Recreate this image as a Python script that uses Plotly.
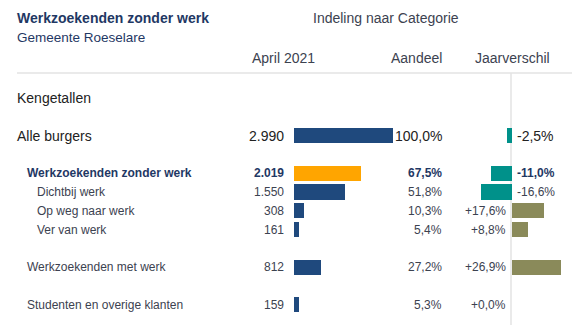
import plotly.graph_objects as go

# ---- data ----
labels = ["Alle burgers", "Werkzoekenden zonder werk", "Dichtbij werk",
          "Op weg naar werk", "Ver van werk", "Werkzoekenden met werk",
          "Studenten en overige klanten"]
values = [2990, 2019, 1550, 308, 161, 812, 159]
aandeel = [100.0, 67.5, 51.8, 10.3, 5.4, 27.2, 5.3]
jaarverschil = [-2.5, -11.0, -16.6, 17.6, 8.8, 26.9, 0.0]
value_labels = ["2.990", "2.019", "1.550", "308", "161", "812", "159"]
aandeel_labels = ["100,0%", "67,5%", "51,8%", "10,3%", "5,4%", "27,2%", "5,3%"]
jaar_labels = ["-2,5%", "-11,0%", "-16,6%", "+17,6%", "+8,8%", "+26,9%", "+0,0%"]
headers = ["April 2021", "Aandeel", "Jaarverschil"]

# ---- layout helpers (row slots, styling) ----
slots = [2, 4, 5, 6, 7, 9, 11]
indent = [17, 27, 37, 37, 37, 27, 27]
sizes = [14, 12, 12, 12, 12, 12, 12]
bold = [False, True, False, False, False, False, False]
W, H = 572, 325
SLOT = 18.8
Y0 = 98

NAVY = "#1f497d"
ORANGE = "#ffa500"
TEAL = "#00918a"
OLIVE = "#8a8a5a"
TXT = "#3c4250"
FONT = "Liberation Sans, Arial, sans-serif"

bar_colors = [ORANGE if i == 1 else NAVY for i in range(len(values))]
jv_colors = [TEAL if v < 0 else OLIVE for v in jaarverschil]

fig = go.Figure()
fig.add_trace(go.Bar(x=values, y=slots, orientation="h", marker_color=bar_colors,
                     marker_line_width=0, width=0.8, xaxis="x", yaxis="y",
                     hoverinfo="skip"))
fig.add_trace(go.Bar(x=jaarverschil, y=slots, orientation="h", marker_color=jv_colors,
                     marker_line_width=0, width=0.8, xaxis="x2", yaxis="y",
                     hoverinfo="skip"))

def px(x):
    return x / W

ann = []
def add(text, x, y, anchor, size=12, color=TXT, yref="y", b=False):
    if b:
        text = "<b>" + text + "</b>"
    ann.append(dict(text=text, x=px(x), y=y, xref="paper", yref=yref,
                    xanchor=anchor, yanchor="middle", showarrow=False,
                    borderpad=0, borderwidth=0,
                    font=dict(size=size, color=color, family=FONT)))

# title / subtitle / headers
add("Werkzoekenden zonder werk", 17, 1 - 18 / H, "left", 14, "#1f3864", "paper", True)
add("Gemeente Roeselare", 17, 1 - 38 / H, "left", 13.5, "#1f3864", "paper")
add("Indeling naar Categorie", 386, 1 - 18 / H, "center", 14, TXT, "paper")
add(headers[0], 283, 1 - 58 / H, "center", 14, TXT, "paper")
add(headers[1], 416, 1 - 58 / H, "center", 14, TXT, "paper")
add(headers[2], 512, 1 - 58 / H, "center", 14, TXT, "paper")
add("Kengetallen", 17, 0, "left", 14, "#222222")

for i in range(len(labels)):
    s = slots[i]
    c = "#1f3864" if bold[i] else ("#222222" if i == 0 else TXT)
    add(labels[i], indent[i], s, "left", sizes[i], c, b=bold[i])
    add(value_labels[i], 284, s, "right", sizes[i], "#222222" if i == 0 else c, b=bold[i])
    add(aandeel_labels[i], 442, s, "right", sizes[i] if i == 0 else 12,
        "#222222" if i == 0 else c, b=bold[i])
    if jaarverschil[i] < 0:
        add(jaar_labels[i], 517, s, "left", 12 if i else 14, "#222222" if i == 0 else c, b=bold[i])
    else:
        add(jaar_labels[i], 506, s, "right", 12, c, b=bold[i])

y_top = -Y0 / SLOT
y_bot = (H - Y0) / SLOT

fig.update_layout(
    width=W, height=H, margin=dict(l=0, r=0, t=0, b=0),
    paper_bgcolor="white", plot_bgcolor="white", showlegend=False,
    barmode="overlay", bargap=0,
    xaxis=dict(domain=[px(294), px(393)], range=[0, 2990], visible=False, fixedrange=True),
    xaxis2=dict(domain=[px(511 - 55.5), px(511 + 55.5)], range=[-30, 30],
                visible=False, fixedrange=True),
    yaxis=dict(range=[y_bot, y_top], visible=False, fixedrange=True),
    annotations=ann,
    shapes=[
        dict(type="line", xref="paper", yref="paper", x0=px(17), x1=1,
             y0=1 - 73 / H, y1=1 - 73 / H, line=dict(color="#e3e3e3", width=1.5), layer="below"),
        dict(type="line", xref="x2", yref="paper", x0=0, x1=0,
             y0=0, y1=1 - 73 / H, line=dict(color="#e3e3e3", width=1.5), layer="below"),
    ],
)

fig.write_html("out.html")
